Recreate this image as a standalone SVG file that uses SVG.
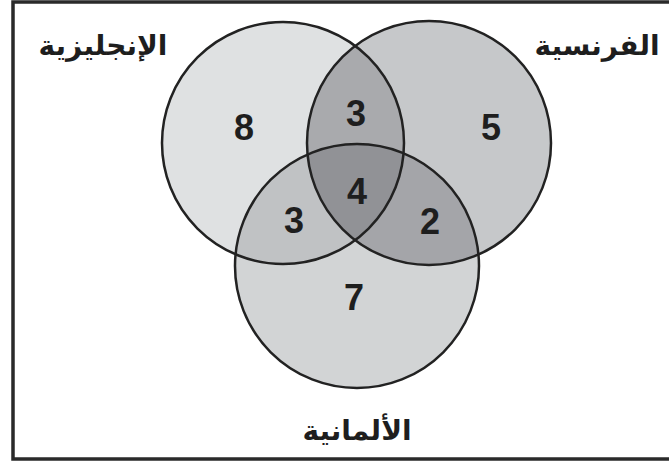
<svg xmlns="http://www.w3.org/2000/svg" width="669" height="468" viewBox="0 0 669 468">
<style>
.num{font-family:"Liberation Sans",Arial,sans-serif;font-weight:bold;font-size:36px;fill:#1e1e1e;text-anchor:middle}
.lbl{font-family:"DejaVu Sans","Noto Sans",sans-serif;font-weight:bold;font-size:28px;fill:#1e1e1e;text-anchor:middle}
.ring{fill:none;stroke:#222;stroke-width:2.5}
</style>
<defs>
<clipPath id="cE"><circle cx="283" cy="143" r="121"/></clipPath>
<clipPath id="cF"><circle cx="429" cy="143" r="122"/></clipPath>
</defs>
<rect x="0" y="0" width="669" height="468" fill="#ffffff"/>
<path d="M669,2 H13 V459 H669" fill="none" stroke="#2a2a2a" stroke-width="3.5"/>
<g id="english">
<circle cx="283" cy="143" r="121" fill="#dfe1e2"/>
</g>
<g id="french">
<circle cx="429" cy="143" r="122" fill="#c6c8ca"/>
</g>
<g id="german">
<circle cx="357" cy="266" r="122" fill="#d2d4d5"/>
</g>
<g id="overlaps">
<circle cx="429" cy="143" r="122" fill="#a9aaad" clip-path="url(#cE)"/>
<circle cx="357" cy="266" r="122" fill="#c0c2c4" clip-path="url(#cE)"/>
<circle cx="357" cy="266" r="122" fill="#a4a5a9" clip-path="url(#cF)"/>
<g clip-path="url(#cF)"><circle cx="357" cy="266" r="122" fill="#919296" clip-path="url(#cE)"/></g>
</g>
<g id="outlines">
<circle class="ring" cx="283" cy="143" r="121"/>
<circle class="ring" cx="429" cy="143" r="122"/>
<circle class="ring" cx="357" cy="266" r="122"/>
</g>
<g id="labels">
<text class="lbl" x="103" y="55">الإنجليزية</text>
<text class="lbl" x="597" y="55">الفرنسية</text>
<text class="lbl" x="357" y="440">الألمانية</text>
</g>
<g id="counts">
<text class="num" x="244" y="140">8</text>
<text class="num" x="356" y="126">3</text>
<text class="num" x="491" y="140">5</text>
<text class="num" x="357" y="204">4</text>
<text class="num" x="294" y="233">3</text>
<text class="num" x="430" y="234">2</text>
<text class="num" x="354" y="310">7</text>
</g>
</svg>
